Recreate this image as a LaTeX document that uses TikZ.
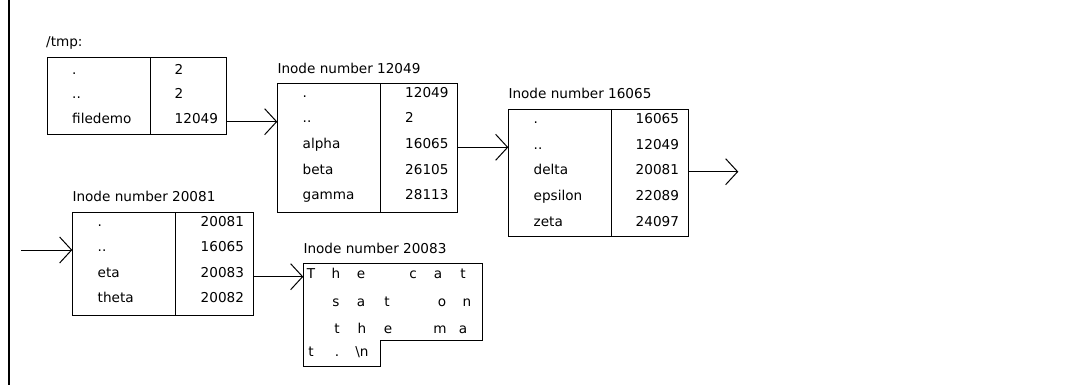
\documentclass[tikz,border=0pt]{standalone}
\usepackage{fontspec}
\setmainfont{DejaVu Sans}
\usetikzlibrary{arrows.meta,calc}
\begin{document}
\begin{tikzpicture}[x=1pt,y=-1pt,
  every node/.style={font=\fontsize{13.6}{16}\selectfont},
  box/.style={draw,line width=1pt,inner sep=0pt,outer sep=0pt,anchor=north west},
  lt/.style={anchor=base west,inner sep=0pt},
  lbl/.style={anchor=base west,inner sep=0pt},
  ch/.style={anchor=base,inner sep=0pt},
  arr/.style={line width=1pt,-{Straight Barb[length=12pt,width=26pt,line width=1pt]}},
  sep/.style={line width=1pt}]
\useasboundingbox (0,0) rectangle (1072,385);
\fill[white] (0,0) rectangle (1072,385);
% left frame line
\draw[line width=2.5pt] (9,0) -- (9,385);

% /tmp
\node[lbl] (ltmp) at (46,47) {/tmp:};
\node[box,minimum width=179pt,minimum height=77pt] (tmp) at (47.3,58) {};
\draw[sep] (tmp.north -| 150,0) -- (tmp.south -| 150,0);
\node[lt] (t1) at (72,75) {.};
\node[lt] (t2) at (72,99) {..};
\node[lt] (t3) at (72,124) {filedemo};
\node[lt] (u1) at (174.5,75) {2};
\node[lt] (u2) at (174.5,99) {2};
\node[lt] (u3) at (174.5,124) {12049};

% Inode 12049
\node[lbl] (l1) at (277.3,73.5) {Inode number 12049};
\node[box,minimum width=180.4pt,minimum height=128.3pt] (in1) at (277.3,84) {};
\draw[sep] (in1.north -| 380.7,0) -- (in1.south -| 380.7,0);
\node[lt] (a1) at (302.5,97.3) {.};
\node[lt] (a2) at (302.5,123) {..};
\node[lt] (a3) at (302.5,148.7) {alpha};
\node[lt] (a4) at (302.5,174.4) {beta};
\node[lt] (a5) at (302.5,200) {gamma};
\node[lt] (b1) at (405,97.3) {12049};
\node[lt] (b2) at (405,123) {2};
\node[lt] (b3) at (405,148.7) {16065};
\node[lt] (b4) at (405,174.4) {26105};
\node[lt] (b5) at (405,200) {28113};

% Inode 16065
\node[lbl] (l2) at (508.3,98.3) {Inode number 16065};
\node[box,minimum width=180pt,minimum height=126.7pt] (in2) at (508.3,110) {};
\draw[sep] (in2.north -| 611,0) -- (in2.south -| 611,0);
\node[lt] (c1) at (533.5,123.8) {.};
\node[lt] (c2) at (533.5,149.5) {..};
\node[lt] (c3) at (533.5,175) {delta};
\node[lt] (c4) at (533.5,200.5) {epsilon};
\node[lt] (c5) at (533.5,226) {zeta};
\node[lt] (d1) at (635.5,123.8) {16065};
\node[lt] (d2) at (635.5,149.5) {12049};
\node[lt] (d3) at (635.5,175) {20081};
\node[lt] (d4) at (635.5,200.5) {22089};
\node[lt] (d5) at (635.5,226) {24097};

% Inode 20081
\node[lbl] (l3) at (72.3,201.7) {Inode number 20081};
\node[box,minimum width=181pt,minimum height=102.7pt] (in3) at (72.3,212.3) {};
\draw[sep] (in3.north -| 175,0) -- (in3.south -| 175,0);
\node[lt] (e1) at (97.5,226.2) {.};
\node[lt] (e2) at (97.5,251.7) {..};
\node[lt] (e3) at (97.5,277.3) {eta};
\node[lt] (e4) at (97.5,302.8) {theta};
\node[lt] (g1) at (200.5,226.2) {20081};
\node[lt] (g2) at (200.5,251.7) {16065};
\node[lt] (g3) at (200.5,277.3) {20083};
\node[lt] (g4) at (200.5,302.8) {20082};

% Inode 20083 (file contents)
\node[lbl] (l4) at (303.3,254) {Inode number 20083};
\draw[line width=1pt] (303.3,263.3) -- (482.7,263.3) -- (482.7,340) -- (380,340)
  -- (380,366) -- (303.3,366) -- cycle;
\coordinate (fw) at (303.3,276.7);
\node[ch] (f11) at (311,278) {T};
\node[ch] (f12) at (336,278) {h};
\node[ch] (f13) at (361,278) {e};
\node[ch] (f15) at (413,278) {c};
\node[ch] (f16) at (438,278) {a};
\node[ch] (f17) at (463,278) {t};
\node[ch] (f22) at (336,306) {s};
\node[ch] (f23) at (361,306) {a};
\node[ch] (f24) at (387,306) {t};
\node[ch] (f26) at (442,306) {o};
\node[ch] (f27) at (467,306) {n};
\node[ch] (f32) at (337,333) {t};
\node[ch] (f33) at (362,333) {h};
\node[ch] (f34) at (388,333) {e};
\node[ch] (f36) at (440,333) {m};
\node[ch] (f37) at (463,333) {a};
\node[ch] (f41) at (311,356) {t};
\node[ch] (f42) at (337,356) {.};
\node[ch] (f43) at (362,356) {\textbackslash n};

% connectors
\coordinate (out2) at (738.3,171.7);
\coordinate (in3src) at (21,250);
\draw[arr] (tmp.east |- 0,121.7) -- (in1.west |- 0,121.7);
\draw[arr] (in1.east |- 0,147.3) -- (in2.west |- 0,147.3);
\draw[arr] (in2.east |- 0,171.7) -- (out2);
\draw[arr] (in3src) -- (in3.west |- in3src);
\draw[arr] (in3.east |- fw) -- (fw);
\end{tikzpicture}
\end{document}
